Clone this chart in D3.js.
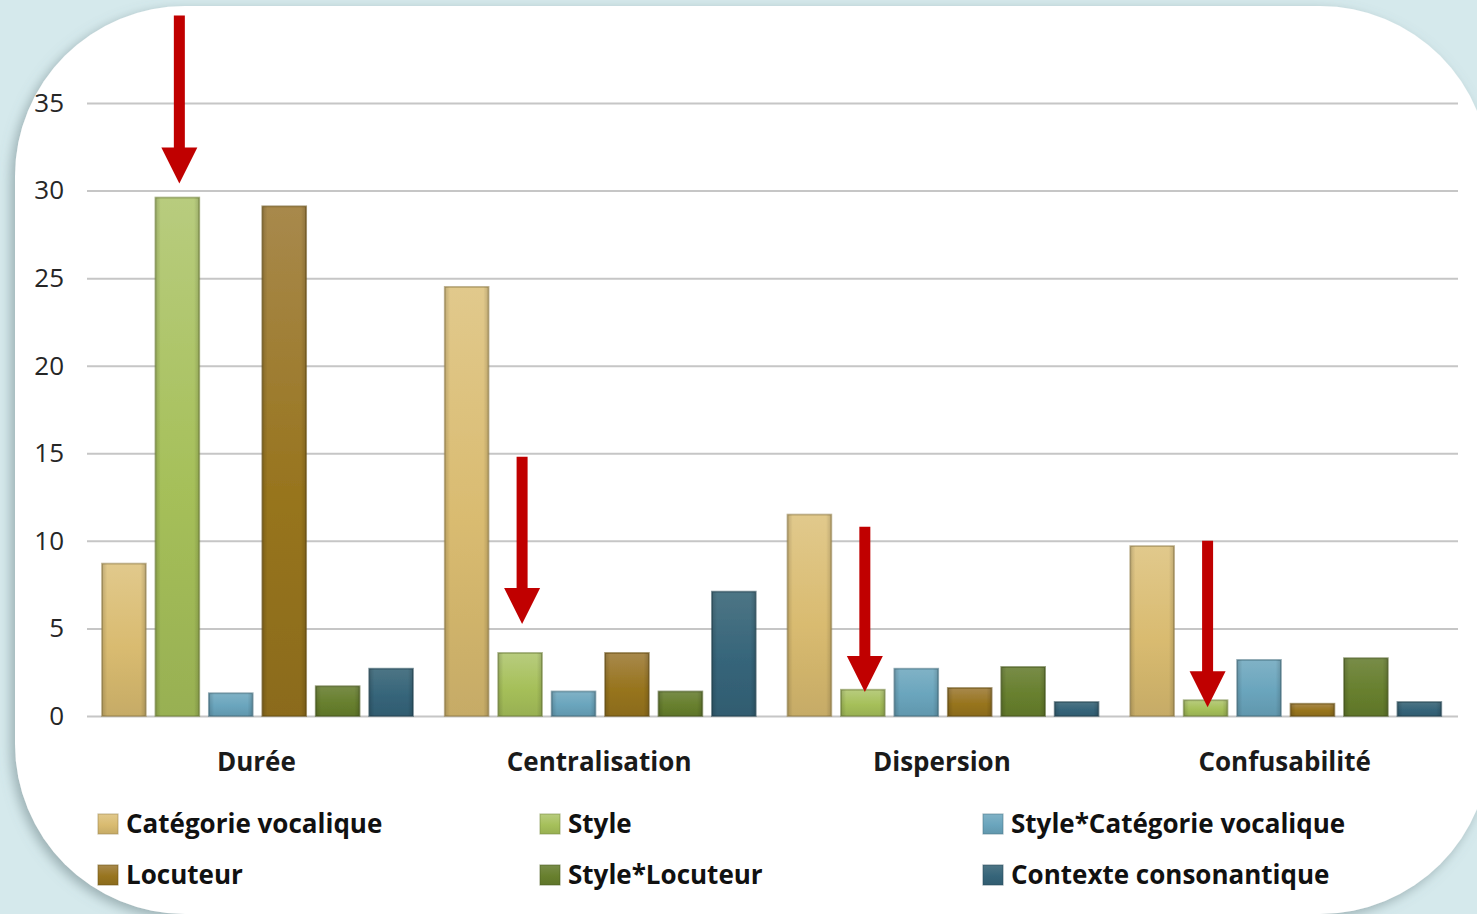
<!DOCTYPE html>
<html>
<head>
<meta charset="utf-8">
<script src="https://cdn.jsdelivr.net/npm/d3@7/dist/d3.min.js"></script>
<style>
  html, body { margin: 0; padding: 0; background: #d5e9ec; }
  svg { display: block; }
  text { font-family: "Open Sans", "DejaVu Sans", sans-serif; }
</style>
</head>
<body>
<svg id="chart" width="1477" height="914"></svg>
<script>
// Groups along the x axis
const categories = ["Durée", "Centralisation", "Dispersion", "Confusabilité"];

// Effects, in bar order inside each group
const series = ["Catégorie vocalique", "Style", "Style*Catégorie vocalique",
                "Locuteur", "Style*Locuteur", "Contexte consonantique"];

// One value per group, for each effect
const catVocalique   = [8.7, 24.5, 11.5, 9.7];
const style          = [29.6, 3.6, 1.5, 0.9];
const styleCatVoc    = [1.3, 1.4, 2.7, 3.2];
const locuteur       = [29.1, 3.6, 1.6, 0.7];
const styleLocuteur  = [1.7, 1.4, 2.8, 3.3];
const contexteCons   = [2.7, 7.1, 0.8, 0.8];

const yTicks = [0, 5, 10, 15, 20, 25, 30, 35];

// Red arrows pointing at the Style bars (start and tip, in axis units)
const arrowTop = [40.0, 14.8, 10.8, 10.0];
const arrowTip = [30.4, 5.25, 1.37, 0.5];

const valuesBySeries = [catVocalique, style, styleCatVoc, locuteur, styleLocuteur, contexteCons];
const colors = ["#d9bb70", "#a6c05a", "#6aa5bd", "#98751f", "#68802e", "#36657a"];
const topColors = ["#e1c98c", "#b8cc7e", "#80b2c6", "#a8894c", "#788c48", "#4d7585"];

const svg = d3.select("#chart");
const W = 1477, H = 914;
const defs = svg.append("defs");

// Soft shadow under the white panel
const sh = defs.append("filter").attr("id", "panelShadow")
  .attr("x", "-5%").attr("y", "-5%").attr("width", "110%").attr("height", "110%");
sh.append("feDropShadow").attr("dx", -4).attr("dy", 4).attr("stdDeviation", 6)
  .attr("flood-color", "#6b7f84").attr("flood-opacity", 0.55);

const barBlur = defs.append("filter").attr("id", "barSoft")
  .attr("x", "-10%").attr("y", "-10%").attr("width", "120%").attr("height", "120%");
barBlur.append("feGaussianBlur").attr("stdDeviation", 0.6);

series.forEach((s, i) => {
  const g = defs.append("linearGradient").attr("id", "grad" + i)
    .attr("x1", 0).attr("y1", 0).attr("x2", 0).attr("y2", 1);
  g.append("stop").attr("offset", "0%").attr("stop-color", topColors[i]);
  g.append("stop").attr("offset", "55%").attr("stop-color", colors[i]);
  g.append("stop").attr("offset", "100%").attr("stop-color", d3.color(colors[i]).darker(0.25));
  const h = defs.append("linearGradient").attr("id", "edge" + i)
    .attr("x1", 0).attr("y1", 0).attr("x2", 1).attr("y2", 0);
  h.append("stop").attr("offset", "0%").attr("stop-color", "#000").attr("stop-opacity", 0.15);
  h.append("stop").attr("offset", "12%").attr("stop-color", "#000").attr("stop-opacity", 0);
  h.append("stop").attr("offset", "88%").attr("stop-color", "#000").attr("stop-opacity", 0);
  h.append("stop").attr("offset", "100%").attr("stop-color", "#000").attr("stop-opacity", 0.15);
});

// Background and rounded white panel
svg.append("rect").attr("width", W).attr("height", H).attr("fill", "#d5e9ec");
svg.append("rect")
  .attr("x", 15).attr("y", 6).attr("width", 1475).attr("height", 908)
  .attr("rx", 170).attr("ry", 170)
  .attr("fill", "#ffffff")
  .attr("filter", "url(#panelShadow)");

// Scales
const x0 = d3.scaleBand().domain(categories).range([87, 1458]).padding(0);
const x1 = d3.scaleBand().domain(series).range([15, 326]).paddingInner(0.18).paddingOuter(0);
const y = d3.scaleLinear().domain([0, 35]).range([716, 103]);

// Gridlines
const grid = svg.append("g")
  .attr("transform", "translate(87,0)")
  .call(d3.axisLeft(y).tickValues(yTicks).tickSize(-1371).tickFormat(""));
grid.select(".domain").remove();
grid.selectAll(".tick line").attr("stroke", "#c6c6c6").attr("stroke-width", 2);

// Y tick labels
const yAxis = svg.append("g")
  .attr("transform", "translate(64,0)")
  .call(d3.axisLeft(y).tickValues(yTicks).tickSize(0).tickPadding(0));
yAxis.select(".domain").remove();
yAxis.selectAll(".tick text")
  .attr("font-size", 26).attr("fill", "#262626")
  .attr("font-family", "'Open Sans', sans-serif");

// Bars
const groups = svg.append("g").selectAll("g")
  .data(categories)
  .join("g")
  .attr("transform", d => `translate(${x0(d)},0)`);

groups.each(function (cat, ci) {
  const g = d3.select(this);
  const rows = series.map((s, si) => ({ s, si, v: valuesBySeries[si][ci] }));
  const bars = g.selectAll("g.bar").data(rows).join("g").attr("class", "bar");
  bars.append("rect")
    .attr("x", d => x1(d.s))
    .attr("y", d => y(d.v))
    .attr("width", x1.bandwidth())
    .attr("height", d => y(0) - y(d.v))
    .attr("fill", d => `url(#grad${d.si})`)
    .attr("stroke", d => d3.color(colors[d.si]).darker(1))
    .attr("stroke-opacity", 0.6)
    .attr("stroke-width", 1.8)
    .attr("filter", "url(#barSoft)");
  bars.append("rect")
    .attr("x", d => x1(d.s))
    .attr("y", d => y(d.v))
    .attr("width", x1.bandwidth())
    .attr("height", d => y(0) - y(d.v))
    .attr("fill", d => `url(#edge${d.si})`);
});

// Category labels
svg.append("g").selectAll("text")
  .data(categories)
  .join("text")
  .attr("x", d => x0(d) + x0.bandwidth() / 2 - 2)
  .attr("y", 771)
  .attr("text-anchor", "middle")
  .attr("font-size", 26)
  .attr("font-weight", "bold")
  .attr("fill", "#1a1a1a")
  .text(d => d);

// Red arrows over the Style bars
const arrowG = svg.append("g");
categories.forEach((cat, i) => {
  const cx = x0(cat) + x1("Style") + x1.bandwidth() / 2 + 2;
  const yTop = y(arrowTop[i]);
  const yTip = y(arrowTip[i]);
  const headLen = 36, headHalf = 18, shaftHalf = 5.5;
  const yBase = yTip - headLen;
  const p = d3.path();
  p.moveTo(cx - shaftHalf, yTop);
  p.lineTo(cx + shaftHalf, yTop);
  p.lineTo(cx + shaftHalf, yBase);
  p.lineTo(cx + headHalf, yBase);
  p.lineTo(cx, yTip);
  p.lineTo(cx - headHalf, yBase);
  p.lineTo(cx - shaftHalf, yBase);
  p.closePath();
  arrowG.append("path").attr("d", p.toString()).attr("fill", "#c00000");
});

// Legend: three columns, two rows
const legendCols = [98, 540, 983];
const legendRows = [824, 875];
const legendOrder = [0, 1, 2, 3, 4, 5];
const legend = svg.append("g").selectAll("g")
  .data(legendOrder)
  .join("g")
  .attr("transform", (d, i) => `translate(${legendCols[i % 3]},${legendRows[Math.floor(i / 3)]})`);
legend.append("rect")
  .attr("x", 0).attr("y", -10).attr("width", 20).attr("height", 20)
  .attr("fill", d => `url(#grad${d})`)
  .attr("stroke", d => d3.color(colors[d]).darker(0.9))
  .attr("stroke-opacity", 0.5)
  .attr("stroke-width", 1.2);
legend.append("text")
  .attr("x", 28).attr("y", 9)
  .attr("font-size", 26)
  .attr("font-weight", "bold")
  .attr("fill", "#111111")
  .text(d => series[d]);
</script>
</body>
</html>
